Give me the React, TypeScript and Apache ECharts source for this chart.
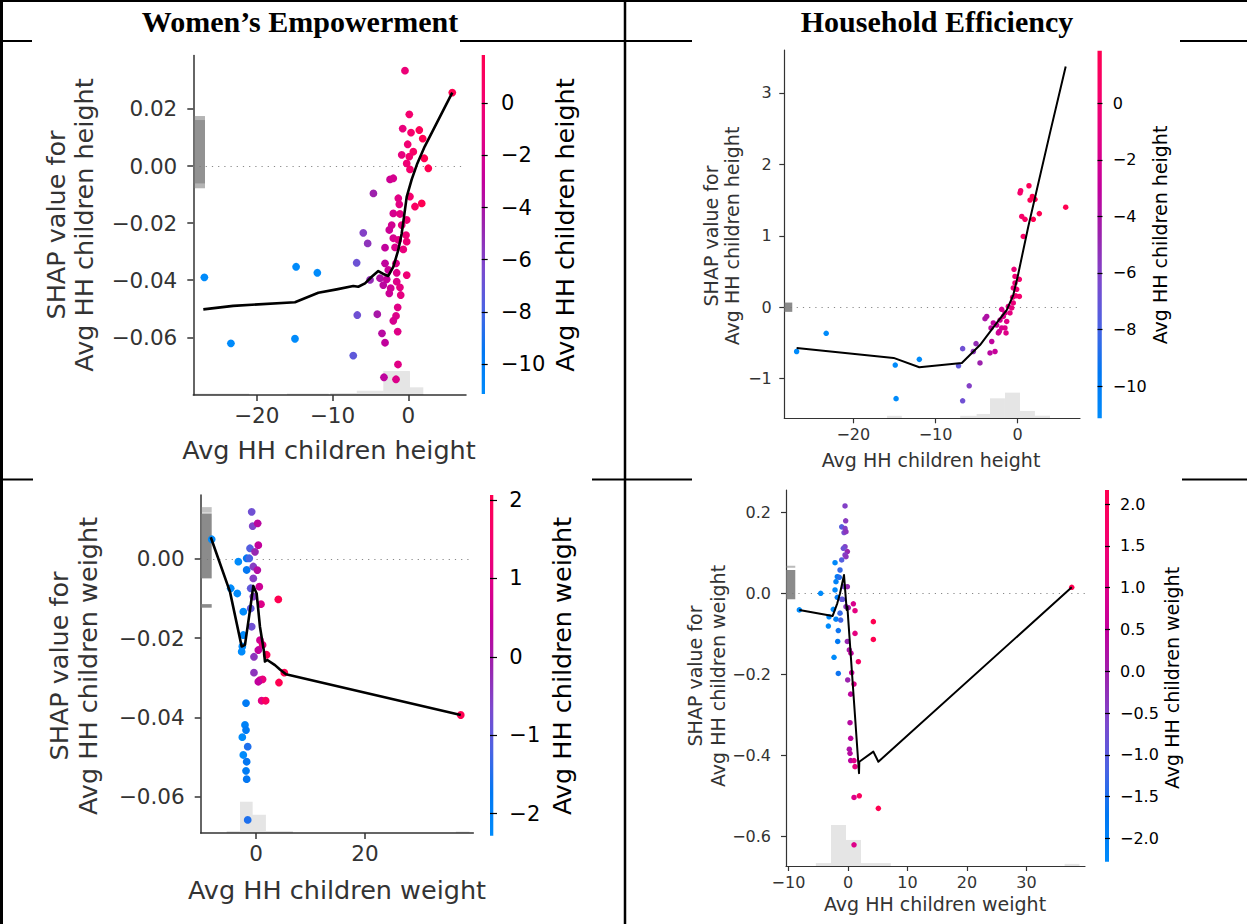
import React, { useEffect, useRef } from "react";
import * as echarts from "echarts";

const FONT = "'DejaVu Sans', sans-serif";
const SERIF = "'Liberation Serif', 'Times New Roman', serif";
const AX = "#333333";

// SHAP red_blue colour map (blue -> purple -> red)
const CMAP = ["#008bfb", "#0078f3", "#4b63e3", "#7d49cd", "#9b23ad", "#c2009c", "#e00086", "#f5006d", "#ff0051"];

// ---------- Panel 1: Women's Empowerment / height ----------
const p1X = [-0.44, 5.8, 0.13, -0.74, 0.36, 1.45, 1.9, -0.08, 0.66, -0.87, 0.13, 2.11, -0.21, 2.64, 0.22, -2.41, -1.98, -4.6, -1.32, 0.22, -1.19, 1.77, 0.88, -1.98, -1.1, -0.21, -2.19, -0.87, -2.51, -5.94, -0.3, -5.36, -1.98, -1.32, -0.21, -3.07, -1.75, -0.66, -6.81, -3.07, -1.62, -2.64, -1.53, -0.21, -3.73, -5.05, -2.85, -1.53, -3.3, -2.32, -1.1, -2.51, -1.0, -1.4, -6.73, -4.09, -1.62, -1.98, -1.4, -3.47, -3.07, -7.26, -1.36, -3.21, -1.62, -26.9, -14.8, -12.0, -23.4, -14.95];
const p1Y = [0.0334, 0.0257, 0.0181, 0.0131, 0.0117, 0.0126, 0.0096, 0.0076, 0.005, 0.0039, 0.0033, 0.0027, 0.0009, -0.0008, -0.0012, -0.0047, -0.0043, -0.0096, -0.0113, -0.0107, -0.0134, -0.0131, -0.0142, -0.0166, -0.0168, -0.0189, -0.0207, -0.0207, -0.0224, -0.0234, -0.0242, -0.0271, -0.0253, -0.0259, -0.0265, -0.0286, -0.0285, -0.0292, -0.0339, -0.0341, -0.0341, -0.0364, -0.0374, -0.0382, -0.0393, -0.0399, -0.0397, -0.0405, -0.0417, -0.0428, -0.0425, -0.0446, -0.0452, -0.0495, -0.0522, -0.0519, -0.0525, -0.0542, -0.058, -0.0586, -0.0619, -0.0664, -0.0695, -0.074, -0.0747, -0.039, -0.0353, -0.0374, -0.0621, -0.0605];
const p1LineX = [-27.04, -23.1, -14.95, -11.87, -9.45, -7.26, -6.6, -5.71, -4.83, -3.96, -3.3, -2.64, -1.98, -1.32, -0.87, -0.57, -0.21, 0.45, 1.19, 2.16, 5.8];
const p1LineY = [-0.0502, -0.049, -0.0477, -0.0444, -0.0432, -0.042, -0.0423, -0.0411, -0.0388, -0.0368, -0.0378, -0.0385, -0.0353, -0.0294, -0.0236, -0.0178, -0.0108, -0.0047, 0.0009, 0.0068, 0.0257];
const p1Hist = [[-28.36, -21.0, -0.0797], [-16.0, -10.5, -0.0797], [-10.3, -6.8, -0.0795], [-6.8, -3.3, -0.0787], [-3.3, 0.22, -0.0718], [0.22, 1.98, -0.0775]];
const p1Nan = [[0, 1.54, -0.0078, 0.0175, 0.55], [0, 1.54, -0.0061, 0.0161, 0.55]];
const p1XTicks = [-20, -10, 0];
const p1YTicks = [-0.06, -0.04, -0.02, 0, 0.02];
const p1CTicks = [-10, -8, -6, -4, -2, 0];

// ---------- Panel 2: Household Efficiency / height ----------
const p2X = [-26.9, -23.3, -14.9, -11.97, -14.8, -7.2, -6.7, -6.7, -5.9, -5.07, -5.4, -4.59, -3.98, -3.77, -3.37, -3.16, -2.76, -3.25, -2.97, -2.55, -2.24, -1.95, -1.55, -2.15, -1.75, -1.34, -1.95, -1.55, -0.94, -0.73, -1.14, -0.54, -0.61, -0.24, -0.54, -0.12, -0.33, 0.2, -0.33, -0.45, 0.2, -1.42, -2.36, 0.68, 0.49, 0.89, 1.9, 2.63, 0.28, 0.36, 1.37, 1.5, 2.1, 1.78, 5.84];
const p2Y = [-0.62, -0.365, -0.81, -0.73, -1.28, -0.82, -0.58, -1.31, -1.1, -0.51, -0.62, -0.78, -0.16, -0.13, -0.64, -0.48, -0.62, -0.29, -0.22, -0.25, -0.34, -0.29, -0.29, -0.18, -0.13, -0.2, -0.03, -0.08, -0.08, -0.01, 0.01, 0.06, 0.14, 0.16, 0.27, 0.25, 0.34, 0.39, 0.43, 0.53, 0.15, -0.36, -0.36, 0.99, 1.27, 1.23, 1.23, 1.31, 1.6, 1.63, 1.7, 1.5, 1.51, 1.55, 1.4];
const p2LineX = [-26.9, -15.1, -11.97, -6.8, -4.59, -2.55, -1.34, -0.54, 0.0, 1.29, 3.93, 5.84];
const p2LineY = [-0.57, -0.71, -0.84, -0.78, -0.53, -0.22, -0.04, 0.17, 0.43, 1.13, 2.44, 3.37];
const p2Hist = [[-15.9, -14.1, -1.52], [-7.0, -5.0, -1.52], [-5.0, -3.37, -1.494], [-3.37, -1.55, -1.275], [-1.55, 0.28, -1.196], [0.28, 2.1, -1.452], [2.1, 3.93, -1.518]];
const p2Nan = [[0, 0.97, -0.065, 0.065, 0.85]];
const p2XTicks = [-20, -10, 0];
const p2YTicks = [-1, 0, 1, 2, 3];
const p2CTicks = [-10, -8, -6, -4, -2, 0];

// ---------- Panel 3: Women's Empowerment / weight ----------
const p3X = [-8.13, -3.24, -1.71, -1.71, -4.64, -3.43, -2.33, -2.33, -2.51, -2.63, -1.83, -2.02, -1.83, -2.51, -1.52, -2.33, -1.71, -1.83, -1.71, -1.52, -1.23, -1.1, -0.79, -0.61, -0.18, -0.49, -0.49, -0.97, -0.49, -0.97, -0.79, -0.37, -0.37, 0.31, 0.43, 0.25, 0.61, 0.92, 0.73, 1.22, 0.43, 1.96, 0.73, 1.22, 0.43, 1.04, 1.78, 4.1, 5.2, 4.22, 37.6];
const p3Y = [0.00497, -0.00068, 0.00018, -0.00278, -0.0074, -0.0087, -0.0133, -0.0192, -0.0221, -0.0234, -0.0364, -0.0419, -0.0432, -0.045, -0.0474, -0.0495, -0.0512, -0.0535, -0.0556, -0.0659, 0.00018, 0.0027, 0.0119, 0.0083, 0.0018, -0.0019, -0.0049, -0.0074, -0.0095, -0.0125, -0.0171, -0.0247, -0.0287, 0.009, 0.0035, -0.0028, -0.007, -0.0114, -0.0205, -0.0217, -0.023, -0.0242, -0.0306, -0.0304, -0.031, -0.0358, -0.0358, -0.0102, -0.0287, -0.0312, -0.0394];
const p3LineX = [-8.3, -4.77, -2.63, -2.02, -1.1, -0.49, 0.12, 0.73, 1.47, 1.65, 2.08, 3.49, 4.4, 5.5, 37.6];
const p3LineY = [0.0055, -0.0083, -0.0221, -0.0217, -0.0129, -0.0068, -0.0087, -0.0171, -0.0234, -0.0259, -0.0255, -0.0268, -0.0279, -0.0291, -0.0394];
const p3Hist = [[-5.38, -2.94, -0.0687], [-2.94, -0.61, -0.0613], [-0.61, 1.83, -0.0646], [1.83, 6.79, -0.0687], [36.7, 39.2, -0.0688]];
const p3Nan = [[0, 2.02, -0.0049, 0.0115, 0.85], [0, 2.02, 0.0117, 0.0131, 0.45], [0, 2.02, -0.0123, -0.0114, 0.85]];
const p3XTicks = [0, 20];
const p3YTicks = [-0.06, -0.04, -0.02, 0];
const p3CTicks = [-2, -1, 0, 1, 2];

// ---------- Panel 4: Household Efficiency / weight ----------
const p4X = [-8.18, -4.59, -3.19, -3.3, -2.35, -1.63, -1.73, -1.63, -2.18, -2.02, -1.8, -2.18, -2.47, -2.02, -1.46, -1.8, -1.34, -1.23, -1.34, -1.06, -0.5, -0.39, -1.06, -0.5, -0.67, -0.34, -0.5, -0.78, -0.11, -0.5, -1.06, -0.34, -0.67, -0.11, -0.34, 0.05, -0.9, -0.11, 0.22, 0.5, 0.62, -0.05, 1.01, 0.45, 0.34, 0.45, 0.22, 0.34, 0.45, 1.01, 1.18, 1.01, 1.01, 0.9, 1.18, 1.18, 1.74, 4.26, 4.26, 1.9, 5.1, 37.6];
const p4Y = [-0.041, 0.0, -0.058, -0.081, -0.158, -0.198, -0.119, -0.092, 0.0756, 0.0287, 0.041, 0.0082, -0.0395, -0.064, 0.0395, -0.0099, -0.049, -0.066, 0.0575, -0.0148, 0.2156, 0.179, 0.164, 0.16, 0.15, 0.152, 0.115, 0.111, 0.103, 0.0946, 0.0822, 0.0904, 0.0163, 0.0163, -0.033, -0.0356, -0.0148, -0.119, -0.14, -0.148, -0.196, -0.214, -0.224, -0.249, -0.3195, -0.358, -0.385, -0.395, -0.413, -0.413, -0.428, -0.504, -0.621, -0.026, -0.043, -0.099, -0.169, -0.07, -0.114, -0.5, -0.531, 0.0148];
const p4LineX = [-8.18, -2.58, -1.8, -1.34, -0.67, -0.22, -0.11, 1.85, 1.9, 4.26, 5.1, 37.6];
const p4LineY = [-0.041, -0.056, -0.0247, 0.0, 0.045, -0.041, -0.033, -0.444, -0.416, -0.391, -0.416, 0.0148];
const p4Hist = [[-5.4, -2.86, -0.666], [-2.86, -0.34, -0.572], [-0.34, 2.18, -0.609], [2.18, 7.2, -0.666], [36.4, 38.9, -0.668]];
const p4Nan = [[0, 1.56, -0.0148, 0.0575, 0.85], [0, 1.56, 0.063, 0.068, 0.5]];
const p4XTicks = [-10, 0, 10, 20, 30];
const p4YTicks = [-0.6, -0.4, -0.2, 0, 0.2];
const p4CTicks = [-2, -1.5, -1, -0.5, 0, 0.5, 1, 1.5, 2];

const fmt = (d: number) => (v: number) => (v < -1e-12 ? "\u2212" : "") + Math.abs(v).toFixed(d);
const clamp = (v: number, a: number, b: number) => Math.max(a, Math.min(b, v));

interface Panel {
  grid: number[];
  xr: number[];
  yr: number[];
  xt: number[];
  yt: number[];
  yd: number;
  px: number[];
  py: number[];
  lx: number[];
  ly: number[];
  hist: number[][];
  nan: number[][];
  fs: number;
  xm: number;
  ym: number;
  tl: number;
  aw: number;
  dot: number;
  lw: number;
  cb: { box: number[]; range: number[]; ticks: number[]; d: number; fs: number; m: number; tl: number };
}

const panels: Panel[] = [
  {
    grid: [193.3, 55.5, 272.7, 339.5], xr: [-28.36, 7.61], yr: [-0.0802, 0.0387],
    xt: p1XTicks, yt: p1YTicks, yd: 2, px: p1X, py: p1Y, lx: p1LineX, ly: p1LineY,
    hist: p1Hist, nan: p1Nan, fs: 21.5, xm: 9, ym: 16, tl: 6, aw: 1.5, dot: 7.8, lw: 2.6,
    cb: { box: [481.7, 55, 3.3, 339], range: [-11.15, 1.85], ticks: p1CTicks, d: 0, fs: 21, m: 16, tl: 6 },
  },
  {
    grid: [784.3, 50, 295.7, 368.3], xr: [-28.4, 7.58], yr: [-1.555, 3.6],
    xt: p2XTicks, yt: p2YTicks, yd: 0, px: p2X, py: p2Y, lx: p2LineX, ly: p2LineY,
    hist: p2Hist, nan: p2Nan, fs: 16, xm: 8, ym: 12.5, tl: 5, aw: 1.2, dot: 5.5, lw: 2,
    cb: { box: [1097.5, 50.7, 4.3, 367.6], range: [-11.14, 1.86], ticks: p2CTicks, d: 0, fs: 16, m: 11, tl: 5 },
  },
  {
    grid: [200.7, 495, 272.6, 338], xr: [-10.15, 39.9], yr: [-0.0692, 0.01616],
    xt: p3XTicks, yt: p3YTicks, yd: 2, px: p3X, py: p3Y, lx: p3LineX, ly: p3LineY,
    hist: p3Hist, nan: p3Nan, fs: 21.5, xm: 9, ym: 16, tl: 6, aw: 1.5, dot: 7.8, lw: 2.6,
    cb: { box: [490, 495, 3.3, 340.7], range: [-2.28, 2.064], ticks: p3CTicks, d: 0, fs: 21, m: 16, tl: 7 },
  },
  {
    grid: [786, 490, 299, 376], xr: [-10.42, 39.83], yr: [-0.6733, 0.255],
    xt: p4XTicks, yt: p4YTicks, yd: 1, px: p4X, py: p4Y, lx: p4LineX, ly: p4LineY,
    hist: p4Hist, nan: p4Nan, fs: 16, xm: 8, ym: 15, tl: 5, aw: 1.2, dot: 5.5, lw: 2,
    cb: { box: [1105, 490, 4, 371.7], range: [-2.28, 2.17], ticks: p4CTicks, d: 1, fs: 16, m: 11, tl: 5 },
  },
];

function buildOption() {
  const opt: any = {
    animation: false,
    backgroundColor: "#ffffff",
    grid: [],
    xAxis: [],
    yAxis: [],
    series: [],
    visualMap: [],
    graphic: [],
  };

  const gradStops = CMAP.map((c, i) => ({ offset: 1 - i / (CMAP.length - 1), color: c })).reverse();

  panels.forEach((p) => {
    const gi = opt.grid.length;
    opt.grid.push({ left: p.grid[0], top: p.grid[1], width: p.grid[2], height: p.grid[3], show: false, outerBoundsMode: "none" });
    opt.xAxis.push({
      type: "value", gridIndex: gi, min: p.xr[0], max: p.xr[1],
      axisLine: { show: true, onZero: false, lineStyle: { color: AX, width: p.aw } },
      axisTick: { show: true, inside: false, length: p.tl, lineStyle: { color: AX, width: p.aw }, customValues: p.xt },
      axisLabel: { customValues: p.xt, formatter: fmt(0), color: AX, fontSize: p.fs, fontFamily: FONT, margin: p.xm },
      splitLine: { show: false },
    });
    opt.yAxis.push({
      type: "value", gridIndex: gi, min: p.yr[0], max: p.yr[1],
      axisLine: { show: true, onZero: false, lineStyle: { color: AX, width: p.aw } },
      axisTick: { show: true, inside: false, length: p.tl, lineStyle: { color: AX, width: p.aw }, customValues: p.yt },
      axisLabel: { customValues: p.yt, formatter: fmt(p.yd), color: AX, fontSize: p.fs, fontFamily: FONT, margin: p.ym },
      splitLine: { show: false },
    });
    const yMin = p.yr[0];
    const xMin = p.xr[0];

    // histogram of feature values
    opt.series.push({
      type: "custom", xAxisIndex: gi, yAxisIndex: gi, z: 1, silent: true,
      data: p.hist,
      encode: { x: [0, 1], y: 2 },
      renderItem: (params: any, api: any) => {
        const a = api.coord([api.value(0), api.value(2)]);
        const b = api.coord([api.value(1), yMin]);
        return { type: "rect", shape: { x: a[0], y: a[1], width: b[0] - a[0], height: b[1] - a[1] }, style: { fill: "rgba(0,0,0,0.1)" } };
      },
    });
    // missing-value markers at the left edge
    opt.series.push({
      type: "custom", xAxisIndex: gi, yAxisIndex: gi, z: 2, silent: true,
      data: p.nan,
      encode: { y: [2, 3] },
      renderItem: (params: any, api: any) => {
        const a = api.coord([xMin + api.value(0), api.value(3)]);
        const b = api.coord([xMin + api.value(1), api.value(2)]);
        return { type: "rect", shape: { x: a[0], y: a[1], width: b[0] - a[0], height: b[1] - a[1] }, style: { fill: "#777777", opacity: api.value(4) } };
      },
    });
    // scatter points coloured by the feature value
    const si = opt.series.length;
    opt.series.push({
      type: "scatter", xAxisIndex: gi, yAxisIndex: gi, z: 3, silent: true,
      symbol: "circle", symbolSize: p.dot,
      data: p.px.map((x, i) => [x, p.py[i], clamp(x, p.cb.range[0], p.cb.range[1])]),
      itemStyle: { opacity: 1 },
      markLine: {
        silent: true, z: 1, symbol: ["none", "none"], label: { show: false },
        lineStyle: { color: "#888888", width: 1, type: [1.2, 5] },
        data: [{ yAxis: 0 }],
      },
    });
    opt.visualMap.push({
      type: "continuous", show: false, seriesIndex: si, dimension: 2,
      min: p.cb.range[0], max: p.cb.range[1], inRange: { color: CMAP },
    });
    // dependence trend line
    opt.series.push({
      type: "line", xAxisIndex: gi, yAxisIndex: gi, z: 4, silent: true,
      symbol: "none", data: p.lx.map((x, i) => [x, p.ly[i]]),
      lineStyle: { color: "#000000", width: p.lw, join: "round" },
    });

    // colour bar with its own axis
    const ci = opt.grid.length;
    const c = p.cb;
    opt.grid.push({
      left: c.box[0], top: c.box[1], width: c.box[2], height: c.box[3], show: true, borderWidth: 0,
      backgroundColor: new echarts.graphic.LinearGradient(0, 0, 0, 1, gradStops), outerBoundsMode: "none",
    });
    opt.xAxis.push({ type: "value", gridIndex: ci, show: false, min: 0, max: 1 });
    opt.yAxis.push({
      type: "value", gridIndex: ci, position: "right", min: c.range[0], max: c.range[1],
      axisLine: { show: false },
      axisTick: { show: true, inside: false, length: c.tl, lineStyle: { color: "#000", width: 1.2 }, customValues: c.ticks },
      axisLabel: { customValues: c.ticks, formatter: fmt(c.d), color: "#000", fontSize: c.fs, fontFamily: FONT, margin: c.m },
      splitLine: { show: false },
    });
  });

  const txt = (text: string, x: number, y: number, size: number, rot = 0, fill = AX) => ({
    type: "text", x, y, rotation: rot, silent: true,
    style: { text, fontSize: size, fontFamily: FONT, fill, align: "center", verticalAlign: "middle" },
  });
  const R = Math.PI / 2;
  const ln = (x1: number, y1: number, x2: number, y2: number, w: number) => ({
    type: "line", silent: true, shape: { x1, y1, x2, y2 }, style: { stroke: "#000", lineWidth: w },
  });

  opt.graphic = [
    // table rules
    ln(0, 1, 1247, 1, 2),
    ln(1.5, 0, 1.5, 924, 3),
    ln(625, 0, 625, 924, 2.5),
    ln(0, 41, 32, 41, 2), ln(460, 41, 625, 41, 2), ln(625, 41, 692, 41, 2), ln(1180, 41, 1247, 41, 2),
    ln(0, 479.5, 33, 479.5, 2), ln(592, 479.5, 625, 479.5, 2), ln(625, 479.5, 692, 479.5, 2), ln(1182, 479.5, 1247, 479.5, 2),
    // headers
    { type: "text", x: 300, y: 21, silent: true, style: { text: "Women\u2019s Empowerment", fontSize: 30, fontWeight: "bold", fontFamily: SERIF, fill: "#000", align: "center", verticalAlign: "middle" } },
    { type: "text", x: 937, y: 21, silent: true, style: { text: "Household Efficiency", fontSize: 30, fontWeight: "bold", fontFamily: SERIF, fill: "#000", align: "center", verticalAlign: "middle" } },
    // panel 1 titles
    txt("SHAP value for", 56, 225, 25.5, R),
    txt("Avg HH children height", 84, 225, 25.5, R),
    txt("Avg HH children height", 329, 450, 25.5),
    txt("Avg HH children height", 565, 225, 25.5, R, "#000"),
    // panel 2 titles
    txt("SHAP value for", 711, 236, 19, R),
    txt("Avg HH children height", 732, 236, 19, R),
    txt("Avg HH children height", 931, 460, 19),
    txt("Avg HH children height", 1160, 235, 19, R, "#000"),
    // panel 3 titles
    txt("SHAP value for", 59, 666, 25.5, R),
    txt("Avg HH children weight", 88, 666, 25.5, R),
    txt("Avg HH children weight", 337, 890, 25.5),
    txt("Avg HH children weight", 562, 666, 25.5, R, "#000"),
    // panel 4 titles
    txt("SHAP value for", 695, 676, 19, R),
    txt("Avg HH children weight", 718, 676, 19, R),
    txt("Avg HH children weight", 935, 904, 19),
    txt("Avg HH children weight", 1172, 678, 19, R, "#000"),
  ];
  return opt;
}

export default function App() {
  const ref = useRef<HTMLDivElement>(null);
  useEffect(() => {
    if (!ref.current) return;
    const chart = echarts.init(ref.current, undefined, { renderer: "svg" });
    chart.setOption(buildOption());
    return () => chart.dispose();
  }, []);
  return (
    <div
      ref={ref}
      style={{ position: "absolute", left: 0, top: 0, width: 1247, height: 924, background: "#fff" }}
    />
  );
}
